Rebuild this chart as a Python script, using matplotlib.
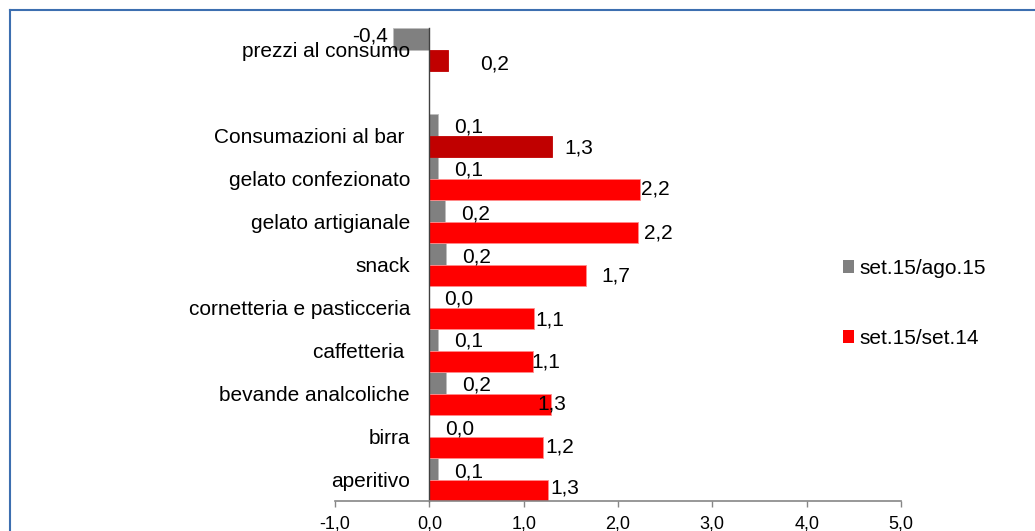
import numpy as np
import matplotlib
matplotlib.use('Agg')
import matplotlib.pyplot as plt
from matplotlib.patches import Patch
from matplotlib.lines import Line2D

plt.rcParams['font.family'] = ['Liberation Sans', 'DejaVu Sans']

categories = ['prezzi al consumo', 'Consumazioni al bar ', 'gelato confezionato',
              'gelato artigianale', 'snack', 'cornetteria e pasticceria',
              'caffetteria ', 'bevande analcoliche', 'birra', 'aperitivo']
mom = [-0.39, 0.09, 0.09, 0.17, 0.18, 0.0, 0.09, 0.18, 0.0, 0.09]
yoy = [0.20, 1.30, 2.23, 2.21, 1.66, 1.11, 1.10, 1.29, 1.21, 1.26]
series_names = ['set.15/ago.15', 'set.15/set.14']
xticks = [-1, 0, 1, 2, 3, 4, 5]

# label nudges (pixels) for the hand placed data labels
gray_dx = [-5, 16, 16, 16, 16, 15, 16, 16, 16, 16]
gray_dy = [3, -2, -2, -3, -3, -2, -1, -2, -3, -3]
red_dx = [32, 12, 1, 6, 15, 1, -2, -14, 2, 2]
red_dy = [-4, -2, 0, -1, -1, -2, -1, 0, 0, 2]

W, H = 1035, 531
fig = plt.figure(figsize=(W / 100, H / 100), dpi=100)
ax = fig.add_axes([335 / W, (H - 501) / H, 566 / W, 473 / H])

for s in ['top', 'right']:
    ax.spines[s].set_visible(False)
ax.spines['left'].set_position(('data', 0))
ax.spines['left'].set_color('#404040')
ax.spines['left'].set_linewidth(1.0)
ax.spines['bottom'].set_color('#868686')
ax.spines['bottom'].set_linewidth(1.2)

n = len(categories)
ypos = np.arange(n) + (np.arange(n) > 0)   # empty row after the first entry
red_cols = ['#C00000', '#C00000'] + ['#FF0000'] * (n - 2)
red_edges = ['#C00000', '#C00000'] + ['#FF8C8C'] * (n - 2)

ax.barh(ypos - 0.25, mom, height=0.5, color='#808080', edgecolor='#BDBDBD', linewidth=0.6)
ax.barh(ypos + 0.25, yoy, height=0.5, color=red_cols, edgecolor=red_edges, linewidth=0.6)

def fmt(v):
    return f'{v:.1f}'.replace('.', ',')

for i in range(n):
    ha = 'right' if mom[i] < 0 else 'left'
    ax.annotate(fmt(mom[i]), xy=(mom[i], ypos[i] - 0.25), xytext=(gray_dx[i], gray_dy[i]),
                textcoords='offset pixels', ha=ha, va='center', fontsize=15)
    ax.annotate(fmt(yoy[i]), xy=(yoy[i], ypos[i] + 0.25), xytext=(red_dx[i], red_dy[i]),
                textcoords='offset pixels', ha='left', va='center', fontsize=15)

ax.set_xlim(-1, 5)
ax.set_ylim(10.5, -0.5)
ax.set_xticks(xticks)
ax.set_xticklabels([fmt(t) for t in xticks])
ax.set_yticks(ypos)
ax.set_yticklabels(categories)
ax.tick_params(axis='y', length=0, pad=14, labelsize=15)
ax.tick_params(axis='x', length=4.5, width=1, color='#868686', pad=6, labelsize=13)

handles = [Patch(facecolor='#808080', edgecolor='none'),
           Patch(facecolor='#FF0000', edgecolor='none')]
fig.legend(handles, series_names, loc='upper left', bbox_to_anchor=(843 / W, 1 - 259 / H),
           frameon=False, fontsize=15, handlelength=0.53, handleheight=0.53,
           handletextpad=0.25, labelspacing=2.44, borderpad=0, borderaxespad=0)

# chart frame (top and left edges only)
fig.add_artist(Line2D([10 / W, 1], [1 - 10 / H, 1 - 10 / H], transform=fig.transFigure,
                      color='#3D6FB0', linewidth=1.5))
fig.add_artist(Line2D([10 / W, 10 / W], [0, 1 - 10 / H], transform=fig.transFigure,
                      color='#3D6FB0', linewidth=1.5))

fig.savefig('out.png', dpi=100)
